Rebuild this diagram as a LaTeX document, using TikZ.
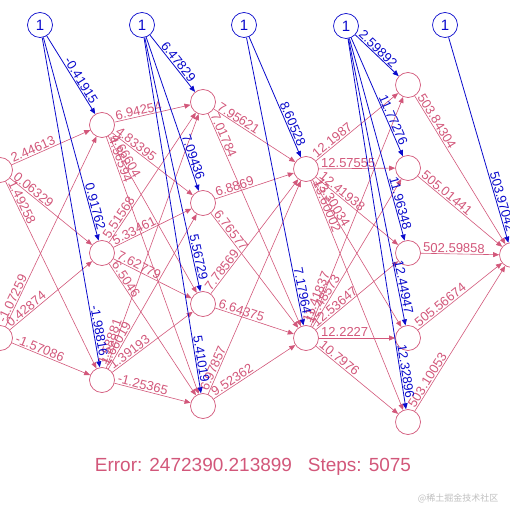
\documentclass[tikz,border=0pt]{standalone}
\usepackage{fontspec}
\setmainfont{Liberation Sans}
\newfontfamily\cjk{Noto Sans CJK SC}
\usetikzlibrary{arrows.meta,calc}
\definecolor{pk}{HTML}{D2577A}
\definecolor{bl}{HTML}{0A0ACC}
\tikzset{
 neuron/.style={circle,draw=pk,line width=0.7pt,minimum size=25pt,inner sep=0pt},
 biasn/.style={circle,draw=bl,line width=0.7pt,minimum size=25pt,inner sep=0pt,text=bl,font=\fontsize{15}{15}\selectfont},
 wline/.style={draw=pk,line width=0.6pt,-{Triangle[length=6pt,width=5pt]}},
 bline/.style={draw=bl,line width=0.8pt,-{Triangle[length=6pt,width=5pt]}},
 wlab/.style={sloped,anchor=south west,inner sep=1pt,text=pk,font=\fontsize{13}{13}\selectfont},
 blab/.style={sloped,anchor=south east,inner sep=1pt,text=bl,font=\fontsize{13}{13}\selectfont},
}
\newcommand{\wlink}[3]{\draw[wline] (#1) -- (#2); \path ($(#1.center)!14pt!(#2.center)$) -- (#2.center) node[wlab,pos=0]{#3};}
\newcommand{\blink}[3]{\draw[bline] (#1) -- (#2); \path (#1.center) -- ($(#2.center)!22pt!(#1.center)$) node[blab,pos=1]{#3};}
\begin{document}
\begin{tikzpicture}[x=1pt,y=-1pt]
\useasboundingbox (0,0) rectangle (510,510);
\clip (0,0) rectangle (510,510);
% nodes
\node[biasn] (b1) at (40,25) {1};
\node[biasn] (b2) at (142,25) {1};
\node[biasn] (b3) at (244,25) {1};
\node[biasn] (b4) at (346,26) {1};
\node[biasn] (b5) at (445,25) {1};
\node[neuron] (i1) at (0,170) {};
\node[neuron] (i2) at (0,338) {};
\node[neuron] (h11) at (102,125) {};
\node[neuron] (h12) at (102,253) {};
\node[neuron] (h13) at (102,380) {};
\node[neuron] (h21) at (203,102) {};
\node[neuron] (h22) at (203,203) {};
\node[neuron] (h23) at (203,304) {};
\node[neuron] (h24) at (203,406) {};
\node[neuron] (h31) at (306,169) {};
\node[neuron] (h32) at (306,338) {};
\node[neuron] (h41) at (408,85) {};
\node[neuron] (h42) at (408,168) {};
\node[neuron] (h43) at (408,253) {};
\node[neuron] (h44) at (408,338) {};
\node[neuron] (h45) at (408,422) {};
\node[neuron] (o) at (512,255) {};
% input -> h1
\wlink{i1}{h11}{2.44613}
\wlink{i1}{h12}{0.06329}
\wlink{i1}{h13}{1.49258}
\wlink{i2}{h11}{-1.07259}
\wlink{i2}{h12}{0.42874}
\wlink{i2}{h13}{-1.57086}
% h1 -> h2
\wlink{h11}{h21}{6.94254}
\wlink{h11}{h22}{4.83395}
\wlink{h11}{h23}{4.66604}
\wlink{h11}{h24}{4.56594}
\wlink{h12}{h21}{5.51568}
\wlink{h12}{h22}{5.33461}
\wlink{h12}{h23}{7.62779}
\wlink{h12}{h24}{6.5046}
\wlink{h13}{h21}{1.58881}
\wlink{h13}{h22}{1.66019}
\wlink{h13}{h23}{1.39193}
\wlink{h13}{h24}{-1.25365}
% h2 -> h3
\wlink{h21}{h31}{7.95621}
\wlink{h21}{h32}{7.01784}
\wlink{h22}{h31}{6.8869}
\wlink{h22}{h32}{6.76577}
\wlink{h23}{h31}{7.78569}
\wlink{h23}{h32}{6.64375}
\wlink{h24}{h31}{6.97857}
\wlink{h24}{h32}{9.52362}
% h3 -> h4
\wlink{h31}{h41}{12.1987}
\wlink{h31}{h42}{12.57555}
\wlink{h31}{h43}{12.41938}
\wlink{h31}{h44}{13.30034}
\wlink{h31}{h45}{13.60002}
\wlink{h32}{h41}{11.41837}
\wlink{h32}{h42}{12.48573}
\wlink{h32}{h43}{12.53647}
\wlink{h32}{h44}{12.2227}
\wlink{h32}{h45}{10.7976}
% h4 -> out
\wlink{h41}{o}{503.84304}
\wlink{h42}{o}{505.01441}
\wlink{h43}{o}{502.59858}
\wlink{h44}{o}{505.56674}
\wlink{h45}{o}{503.10053}
% bias
\blink{b1}{h11}{-0.41915}
\blink{b1}{h12}{0.91762}
\blink{b1}{h13}{-1.98816}
\blink{b2}{h21}{6.47829}
\blink{b2}{h22}{7.09436}
\blink{b2}{h23}{5.56729}
\blink{b2}{h24}{5.41019}
\blink{b3}{h31}{8.60528}
\blink{b3}{h32}{7.17964}
\blink{b4}{h41}{2.59892}
\blink{b4}{h42}{11.77276}
\blink{b4}{h43}{11.96348}
\blink{b4}{h44}{12.44947}
\blink{b4}{h45}{12.32896}
\blink{b5}{o}{503.97042}
% title
\node[text=pk,font=\fontsize{19}{19}\selectfont] (err) at (253,467) {Error: 2472390.213899\ \ \ Steps: 5075};
\node[text=black!25,font=\cjk\fontsize{9}{9}\selectfont] (wm) at (458,498) {@稀土掘金技术社区};
\end{tikzpicture}
\end{document}
